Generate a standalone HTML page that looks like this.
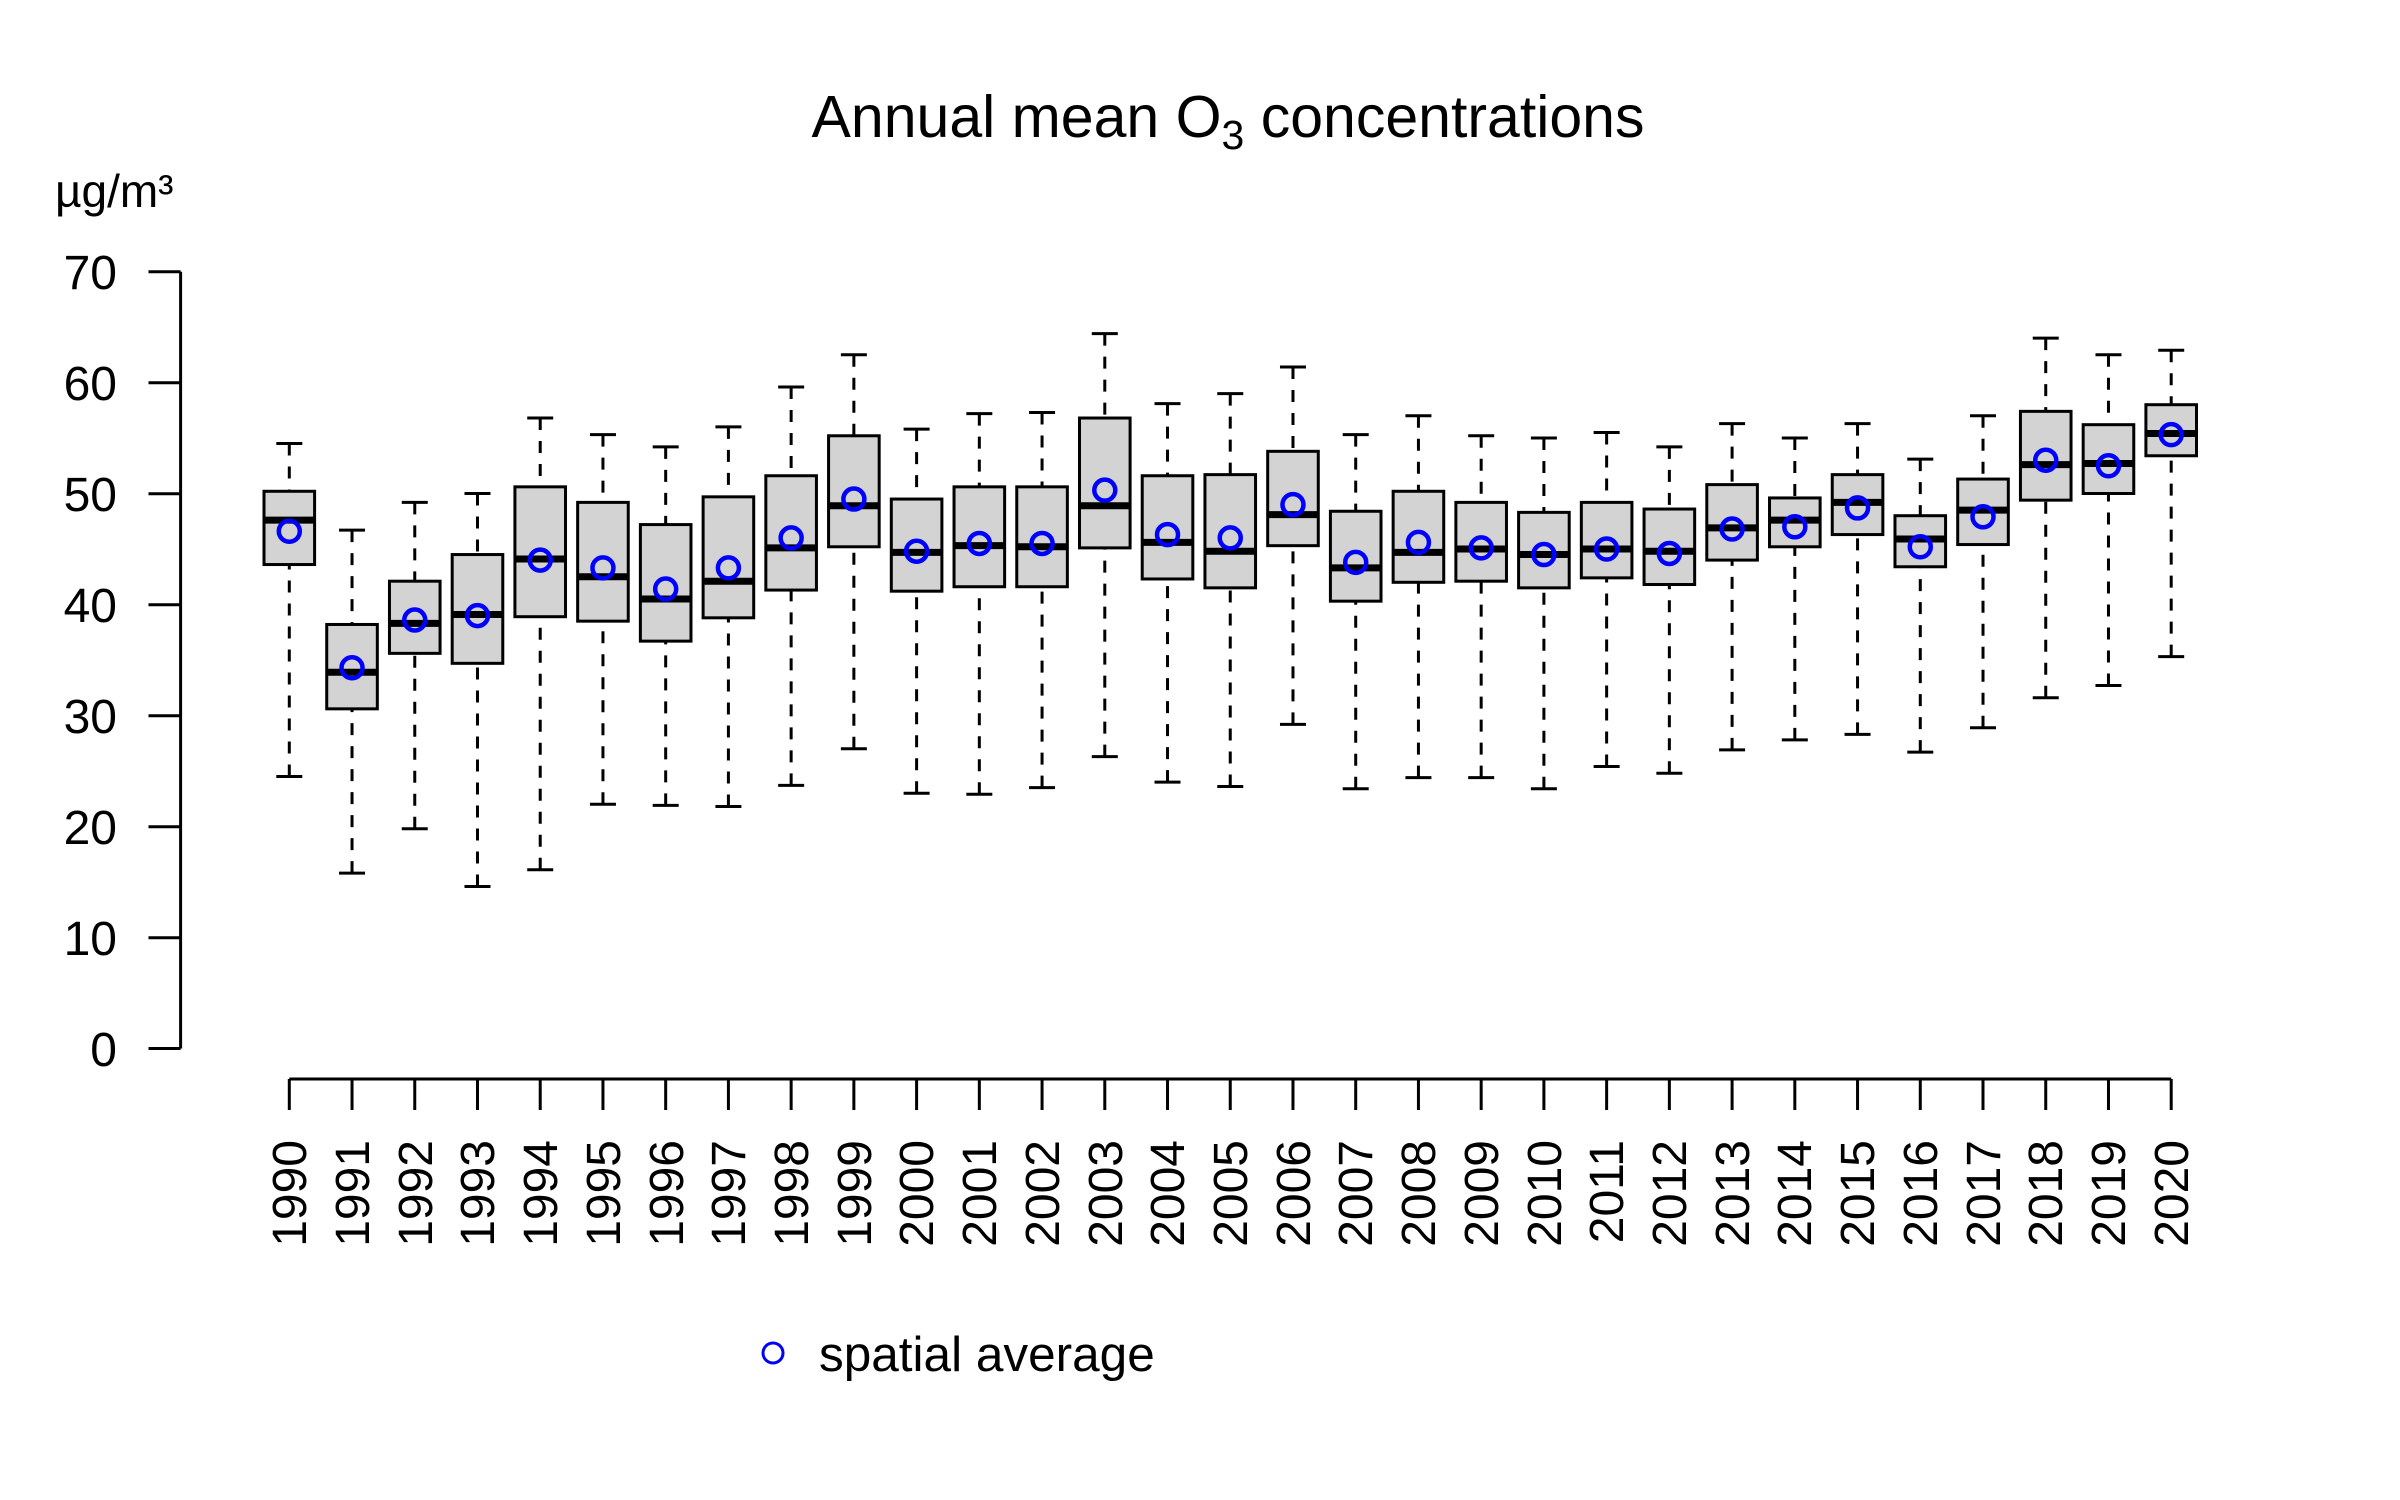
<!DOCTYPE html>
<html><head><meta charset="utf-8"><style>html,body{margin:0;padding:0;background:#fff}svg{display:block}text{font-family:"Liberation Sans",Arial,sans-serif;fill:#000}</style></head>
<body>
<svg id="s" width="2400" height="1500" viewBox="0 0 2400 1500" xmlns="http://www.w3.org/2000/svg">
<rect width="2400" height="1500" fill="#fff"/>
<text x="1228" y="137" font-size="59" text-anchor="middle">Annual mean O<tspan font-size="41" dy="12">3</tspan><tspan dy="-12"> concentrations</tspan></text>
<text x="55" y="207" font-size="46">µg/m³</text>
<g font-size="48" text-anchor="end">
<text x="117" y="289">70</text><text x="117" y="400">60</text><text x="117" y="511">50</text><text x="117" y="622">40</text><text x="117" y="733">30</text><text x="117" y="844">20</text><text x="117" y="955">10</text><text x="117" y="1066">0</text>
</g>
<path d="M180.6 271.7V1048.5M148.5 271.7H180.6M148.5 382.7H180.6M148.5 493.7H180.6M148.5 604.7H180.6M148.5 715.7H180.6M148.5 826.7H180.6M148.5 937.7H180.6M148.5 1048.5H180.6" stroke="#000" stroke-width="3" fill="none"/>
<g id="boxes"></g>
<g font-size="48" text-anchor="end">
<text transform="translate(306,1140) rotate(-90)">1990</text><text transform="translate(369,1140) rotate(-90)">1991</text><text transform="translate(432,1140) rotate(-90)">1992</text><text transform="translate(494,1140) rotate(-90)">1993</text><text transform="translate(557,1140) rotate(-90)">1994</text><text transform="translate(620,1140) rotate(-90)">1995</text><text transform="translate(683,1140) rotate(-90)">1996</text><text transform="translate(745,1140) rotate(-90)">1997</text><text transform="translate(808,1140) rotate(-90)">1998</text><text transform="translate(871,1140) rotate(-90)">1999</text><text transform="translate(933,1140) rotate(-90)">2000</text><text transform="translate(996,1140) rotate(-90)">2001</text><text transform="translate(1059,1140) rotate(-90)">2002</text><text transform="translate(1122,1140) rotate(-90)">2003</text><text transform="translate(1184,1140) rotate(-90)">2004</text><text transform="translate(1247,1140) rotate(-90)">2005</text><text transform="translate(1310,1140) rotate(-90)">2006</text><text transform="translate(1372,1140) rotate(-90)">2007</text><text transform="translate(1435,1140) rotate(-90)">2008</text><text transform="translate(1498,1140) rotate(-90)">2009</text><text transform="translate(1561,1140) rotate(-90)">2010</text><text transform="translate(1623,1140) rotate(-90)">2011</text><text transform="translate(1686,1140) rotate(-90)">2012</text><text transform="translate(1749,1140) rotate(-90)">2013</text><text transform="translate(1811,1140) rotate(-90)">2014</text><text transform="translate(1874,1140) rotate(-90)">2015</text><text transform="translate(1937,1140) rotate(-90)">2016</text><text transform="translate(2000,1140) rotate(-90)">2017</text><text transform="translate(2062,1140) rotate(-90)">2018</text><text transform="translate(2125,1140) rotate(-90)">2019</text><text transform="translate(2188,1140) rotate(-90)">2020</text>
</g>
<circle cx="773" cy="1353" r="10" fill="none" stroke="#00f" stroke-width="3"/>
<text x="819" y="1371" font-size="49.5">spatial average</text>
</svg>
<script>
var d=[[24.5,43.6,47.6,50.2,54.5,46.6],[15.8,30.6,33.9,38.2,46.7,34.3],[19.8,35.6,38.3,42.1,49.2,38.6],[14.6,34.7,39.1,44.5,50,39.0],[16.1,38.9,44.1,50.6,56.8,44],[22,38.5,42.5,49.2,55.3,43.3],[21.9,36.7,40.5,47.2,54.2,41.4],[21.8,38.8,42.1,49.7,56,43.3],[23.7,41.3,45.1,51.6,59.6,46],[27,45.2,48.9,55.2,62.5,49.5],[23,41.2,44.7,49.5,55.8,44.8],[22.9,41.6,45.3,50.6,57.2,45.5],[23.5,41.6,45.2,50.6,57.3,45.5],[26.3,45.1,48.9,56.8,64.4,50.3],[24,42.3,45.6,51.6,58.1,46.3],[23.6,41.5,44.8,51.7,59,46],[29.2,45.3,48.1,53.8,61.4,49],[23.4,40.3,43.3,48.4,55.3,43.8],[24.4,42,44.7,50.2,57,45.6],[24.4,42.1,45,49.2,55.2,45.1],[23.4,41.5,44.5,48.3,55,44.5],[25.4,42.4,45,49.2,55.5,45],[24.8,41.8,44.8,48.6,54.2,44.6],[26.9,44,46.9,50.8,56.3,46.8],[27.8,45.2,47.6,49.6,55,47],[28.3,46.3,49.2,51.7,56.3,48.7],[26.7,43.4,45.9,48,53.1,45.2],[28.9,45.4,48.5,51.3,57,47.9],[31.6,49.4,52.6,57.4,64,53],[32.7,50,52.7,56.2,62.5,52.5],[35.3,53.4,55.4,58,62.9,55.3]];
function Y(v){return 1048.5-v*11.1}
var h='';
for(var i=0;i<31;i++){var x=289.3+62.73*i,a=d[i];
h+='<line x1="'+x+'" x2="'+x+'" y1="'+Y(a[0])+'" y2="'+Y(a[1])+'" stroke="#000" stroke-width="3" stroke-dasharray="12,11"/>';
h+='<line x1="'+x+'" x2="'+x+'" y1="'+Y(a[4])+'" y2="'+Y(a[3])+'" stroke="#000" stroke-width="3" stroke-dasharray="12,11"/>';
h+='<line x1="'+(x-13)+'" x2="'+(x+13)+'" y1="'+Y(a[0])+'" y2="'+Y(a[0])+'" stroke="#000" stroke-width="3"/>';
h+='<line x1="'+(x-13)+'" x2="'+(x+13)+'" y1="'+Y(a[4])+'" y2="'+Y(a[4])+'" stroke="#000" stroke-width="3"/>';
h+='<rect x="'+(x-25.3)+'" y="'+Y(a[3])+'" width="50.6" height="'+(Y(a[1])-Y(a[3]))+'" fill="#d3d3d3" stroke="#000" stroke-width="3"/>';
h+='<line x1="'+(x-25.3)+'" x2="'+(x+25.3)+'" y1="'+Y(a[2])+'" y2="'+Y(a[2])+'" stroke="#000" stroke-width="7"/>';
h+='<circle cx="'+x+'" cy="'+Y(a[5])+'" r="10.5" fill="none" stroke="#00f" stroke-width="4.5"/>';
}
h+='<path d="M289.3 1079H2171.2" stroke="#000" stroke-width="3"/>';
for(var i=0;i<31;i++){var x=289.3+62.73*i;h+='<line x1="'+x+'" x2="'+x+'" y1="1079" y2="1110" stroke="#000" stroke-width="3"/>';}
document.getElementById('boxes').innerHTML=h;
</script>
</body></html>
